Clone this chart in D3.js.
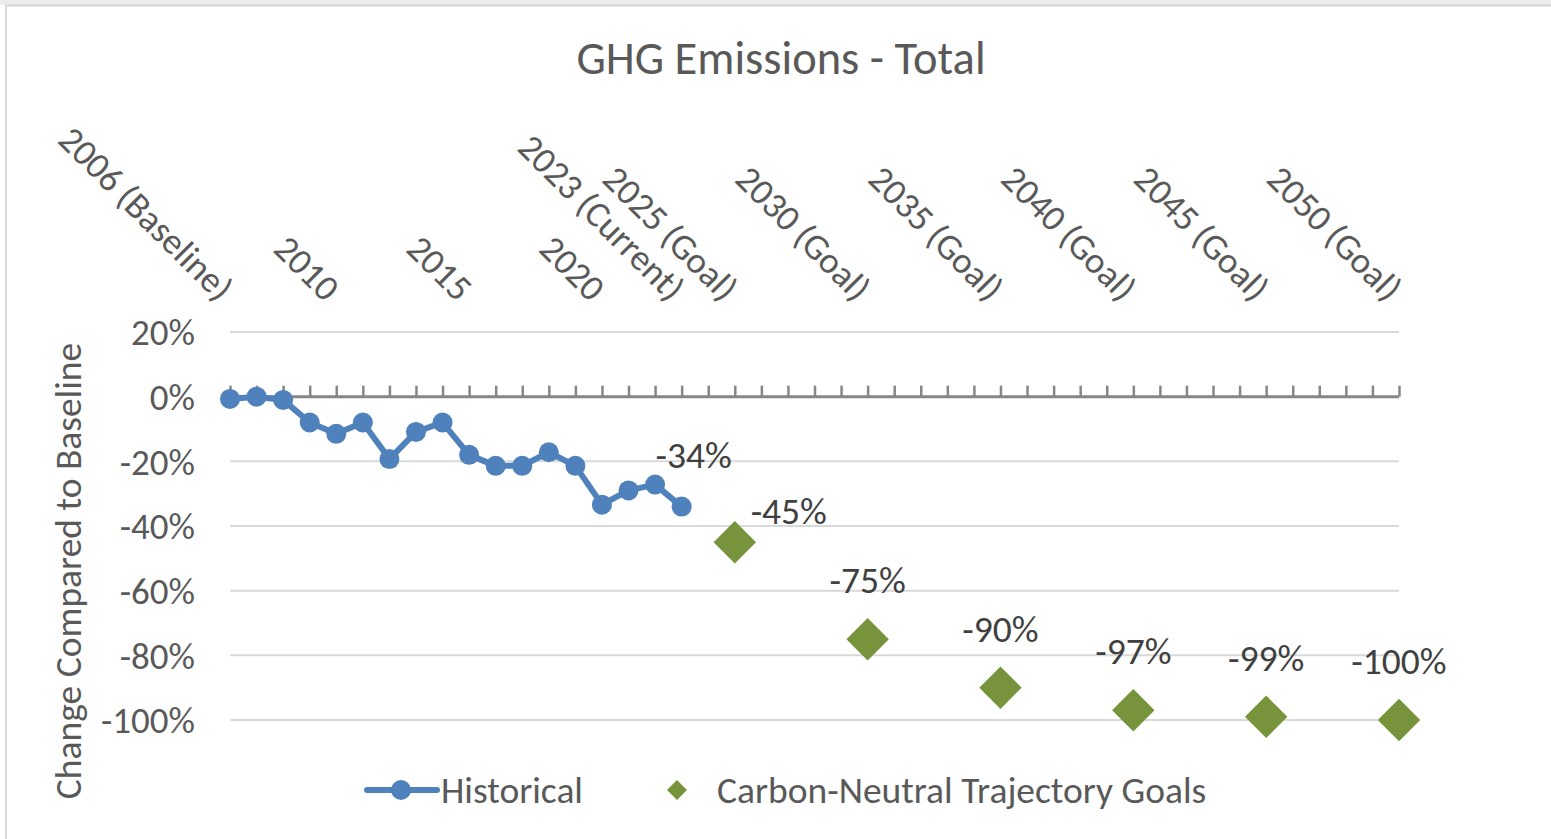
<!DOCTYPE html>
<html>
<head>
<meta charset="utf-8">
<script src="https://cdn.jsdelivr.net/npm/d3@7"></script>
<style>
  body { margin: 0; background: #fff; }
  svg text { font-family: Calibri, Carlito, "Open Sans", sans-serif; }
</style>
</head>
<body>
<svg id="chart" width="1551" height="839"></svg>
<script>
// categories, one per year on the axis
var years = [2006, 2007, 2008, 2009, 2010, 2011, 2012, 2013, 2014, 2015,
             2016, 2017, 2018, 2019, 2020, 2021, 2022, 2023, 2024, 2025,
             2026, 2027, 2028, 2029, 2030, 2031, 2032, 2033, 2034, 2035,
             2036, 2037, 2038, 2039, 2040, 2041, 2042, 2043, 2044, 2045,
             2046, 2047, 2048, 2049, 2050]

// only these categories carry a label
var tickYears  = [2006, 2010, 2015, 2020, 2023, 2025, 2030, 2035, 2040, 2045, 2050]
var tickLabels = ["2006 (Baseline)", "2010", "2015", "2020", "2023 (Current)", "2025 (Goal)",
                  "2030 (Goal)", "2035 (Goal)", "2040 (Goal)", "2045 (Goal)", "2050 (Goal)"]

// historical change vs baseline, %
var histYears  = [2006, 2007, 2008, 2009, 2010, 2011, 2012, 2013, 2014, 2015,
                  2016, 2017, 2018, 2019, 2020, 2021, 2022, 2023]
var histValues = [-0.7, 0, -1, -8, -11.5, -8, -19.3, -10.9, -8, -18,
                  -21.4, -21.4, -17.2, -21.4, -33.4, -29, -27.2, -34]

// carbon-neutral trajectory goals, %
var goalYears  = [2025, 2030, 2035, 2040, 2045, 2050]
var goalValues = [-45, -75, -90, -97, -99, -100]

var yTicks = [20, 0, -20, -40, -60, -80, -100]

var svg = d3.select("#chart")

// ---------- frame ----------
svg.append("rect").attr("x", 0).attr("y", 0).attr("width", 1551).attr("height", 5).attr("fill", "#ececec")
svg.append("line").attr("x1", 5).attr("x2", 1551).attr("y1", 5.5).attr("y2", 5.5)
  .attr("stroke", "#d4d4d4").attr("stroke-width", 2)
svg.append("line").attr("x1", 6).attr("x2", 6).attr("y1", 5).attr("y2", 839)
  .attr("stroke", "#d9d9d9").attr("stroke-width", 2)

// ---------- scales ----------
var x = d3.scalePoint().domain(years).range([230, 1399])
var y = d3.scaleLinear().domain([-100, 20]).range([720, 332])

// title
svg.append("text")
  .attr("x", 781).attr("y", 63)
  .attr("text-anchor", "middle").attr("dominant-baseline", "middle")
  .style("font-size", "46.5px").style("fill", "#595959")
  .text("GHG Emissions - Total")

// gridlines
svg.append("g")
  .selectAll("line")
  .data(yTicks.filter(function(d){ return d != 0 }))
  .enter().append("line")
    .attr("x1", 230).attr("x2", 1399)
    .attr("y1", function(d){ return y(d) }).attr("y2", function(d){ return y(d) })
    .attr("stroke", "#d9d9d9").attr("stroke-width", 2)

// y axis labels
var yAxis = d3.axisLeft(y).tickValues(yTicks).tickSize(0).tickPadding(0)
  .tickFormat(function(d){ return d + "%" })
var gy = svg.append("g").attr("transform", "translate(195,0)").call(yAxis)
gy.select(".domain").remove()
gy.selectAll("text")
  .attr("dy", "0.35em")
  .style("font-size", "37px").style("fill", "#595959")
  .style("font-family", "Calibri, Carlito, 'Open Sans', sans-serif")

// y axis title
svg.append("text")
  .attr("transform", "translate(72,571) rotate(-90)")
  .attr("text-anchor", "middle").attr("dominant-baseline", "middle")
  .style("font-size", "37.5px").style("fill", "#595959")
  .text("Change Compared to Baseline")

// x axis on the 0% line, ticks pointing up
var xAxis = d3.axisTop(x).tickSize(11).tickFormat("")
var gx = svg.append("g").attr("transform", "translate(0," + y(0) + ")").call(xAxis)
gx.select(".domain").attr("stroke", "#868686").attr("stroke-width", 3)
  .attr("d", "M230,0H1399")
gx.selectAll(".tick line").attr("stroke", "#868686").attr("stroke-width", 2.5)

// rotated category labels at the top
svg.append("g")
  .selectAll("text")
  .data(tickYears)
  .enter().append("text")
    .attr("transform", function(d){ return "translate(" + (x(d) - 3) + ",294) rotate(45)" })
    .attr("text-anchor", "end").attr("dy", "0.35em")
    .style("font-size", "36.5px").style("fill", "#595959")
    .text(function(d, i){ return tickLabels[i] })

// ---------- historical line ----------
var hist = histYears.map(function(d, i){ return {year: d, value: histValues[i]} })
var line = d3.line()
  .x(function(d){ return x(d.year) })
  .y(function(d){ return y(d.value) })

svg.append("path")
  .datum(hist)
  .attr("d", line)
  .attr("fill", "none").attr("stroke", "#4F81BD").attr("stroke-width", 6)
  .attr("stroke-linejoin", "round")

svg.append("g")
  .selectAll("circle")
  .data(hist)
  .enter().append("circle")
    .attr("cx", function(d){ return x(d.year) })
    .attr("cy", function(d){ return y(d.value) })
    .attr("r", 10)
    .attr("fill", "#4F81BD")

// ---------- goals ----------
var goals = goalYears.map(function(d, i){ return {year: d, value: goalValues[i]} })
var diamond = d3.symbol().type(d3.symbolSquare).size(900)

svg.append("g")
  .selectAll("path")
  .data(goals)
  .enter().append("path")
    .attr("d", diamond)
    .attr("transform", function(d){ return "translate(" + x(d.year) + "," + y(d.value) + ") rotate(45)" })
    .attr("fill", "#77933C")

// ---------- data labels ----------
// offsets of label centre from the point
var labelOffset = {2023: [12, -52], 2025: [54, -31]}
var labelled = [hist[hist.length - 1]].concat(goals)

svg.append("g")
  .selectAll("text")
  .data(labelled)
  .enter().append("text")
    .attr("x", function(d){ var o = labelOffset[d.year] || [0, -59]; return x(d.year) + o[0] })
    .attr("y", function(d){ var o = labelOffset[d.year] || [0, -59]; return y(d.value) + o[1] })
    .attr("text-anchor", "middle").attr("dy", "0.35em")
    .style("font-size", "37.5px").style("fill", "#404040")
    .text(function(d){ return Math.round(d.value) + "%" })

// ---------- legend ----------
var legend = svg.append("g").attr("transform", "translate(0,790)")
legend.append("line").attr("x1", 367).attr("x2", 437).attr("y1", 0).attr("y2", 0)
  .attr("stroke", "#4F81BD").attr("stroke-width", 6).attr("stroke-linecap", "round")
legend.append("circle").attr("cx", 401).attr("cy", 0).attr("r", 10).attr("fill", "#4F81BD")
legend.append("text").attr("x", 441).attr("y", 0).attr("dy", "0.35em")
  .style("font-size", "37.5px").style("fill", "#595959").text("Historical")

legend.append("path")
  .attr("d", d3.symbol().type(d3.symbolSquare).size(200))
  .attr("transform", "translate(677,0) rotate(45)")
  .attr("fill", "#77933C")
legend.append("text").attr("x", 717).attr("y", 0).attr("dy", "0.35em")
  .style("font-size", "37.5px").style("fill", "#595959").text("Carbon-Neutral Trajectory Goals")
</script>
</body>
</html>
